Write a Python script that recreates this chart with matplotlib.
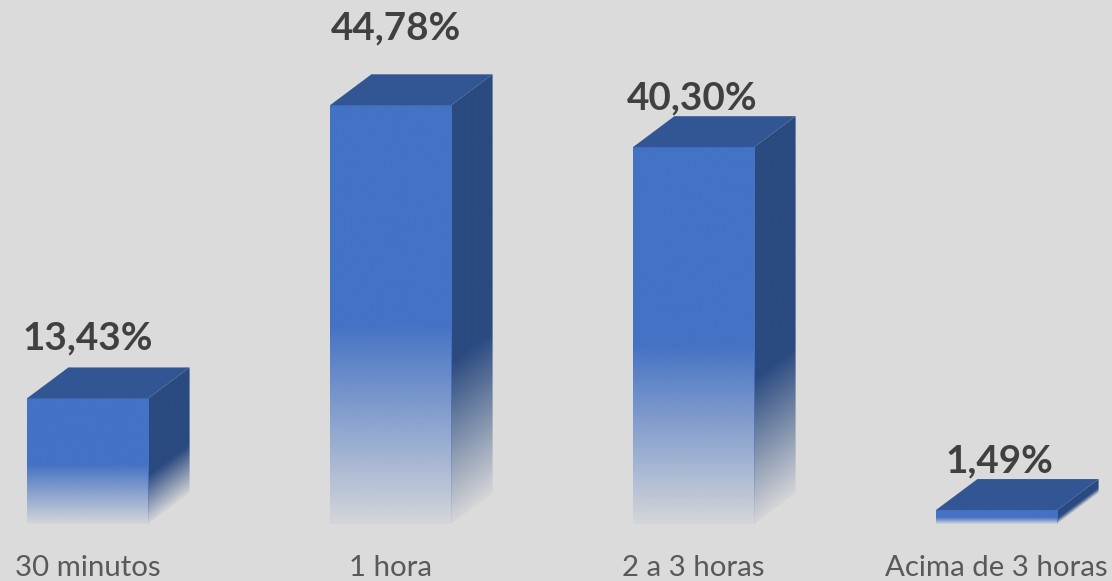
import numpy as np
import matplotlib
matplotlib.use('Agg')
import matplotlib.pyplot as plt
from matplotlib.colors import to_rgb
from matplotlib.patches import Polygon

categories = ['30 minutos', '1 hora', '2 a 3 horas', 'Acima de 3 horas']
values = [13.43, 44.78, 40.30, 1.49]
value_labels = ['13,43%', '44,78%', '40,30%', '1,49%']
# hand placed labels in the original, offset from the bar top in pixels
label_dx = [0, 5, -1.5, 2.5]
label_dy = [60, 77, 49, 49]

BG = '#DBDBDB'
FRONT = '#4472C4'
TOP = '#325694'
SIDE = '#2A4A80'

BAR_W = 0.4
DEPTH_X = 41.5 / 303
DEPTH_Y = 31 / 9.35


def rgba_image(color, alpha):
    img = np.zeros(alpha.shape + (4,))
    img[..., :3] = to_rgb(color)
    img[..., 3] = alpha
    return img


fig = plt.figure(figsize=(11.12, 5.81), dpi=100, facecolor=BG)
ax = fig.add_axes([0, 57 / 581, 1, 524 / 581], facecolor=BG)

for i, v in enumerate(values):
    x0 = i - BAR_W / 2
    x1 = i + BAR_W / 2

    # top face
    ax.add_patch(Polygon([(x0, v), (x1, v), (x1 + DEPTH_X, v + DEPTH_Y), (x0 + DEPTH_X, v + DEPTH_Y)],
                         closed=True, facecolor=TOP, edgecolor='none', zorder=3))

    # side face, the fade is sheared along with the face
    u, y = np.meshgrid(np.linspace(0, 1, 60), np.linspace(0, v + DEPTH_Y, 500))
    side_alpha = np.clip(0.04 + (y - u * DEPTH_Y) / (v * 0.4), 0, 1)
    im = ax.imshow(rgba_image(SIDE, side_alpha), origin='lower', aspect='auto', zorder=2,
                   extent=(x1, x1 + DEPTH_X, 0, v + DEPTH_Y), interpolation='bilinear')
    side = Polygon([(x1, 0), (x1 + DEPTH_X, DEPTH_Y), (x1 + DEPTH_X, v + DEPTH_Y), (x1, v)],
                   closed=True, transform=ax.transData, facecolor='none', edgecolor='none')
    ax.add_patch(side)
    im.set_clip_path(side)

    # front face
    yy = np.linspace(0, v, 400).reshape(-1, 1)
    front_alpha = np.clip(0.05 + yy / (v / 2), 0, 1)
    ax.imshow(rgba_image(FRONT, front_alpha), origin='lower', aspect='auto', zorder=2,
              extent=(x0, x1, 0, v), interpolation='bilinear')

    ax.annotate(value_labels[i], (i, v), xytext=(label_dx[i], label_dy[i]), textcoords='offset pixels',
                ha='center', va='center', fontsize=27.8, fontweight='bold', color='#404040',
                family='Lato', zorder=5, annotation_clip=False)

ax.set_xlim(-87.5 / 303, (1112 - 87.5) / 303)
ax.set_ylim(0, 524 / 9.35)
ax.set_xticks(range(len(categories)))
ax.set_xticklabels(categories, fontsize=21.2, color='#595959', family='Lato')
ax.tick_params(axis='x', length=0, pad=22)
ax.set_yticks([])
for s in ax.spines.values():
    s.set_visible(False)

fig.savefig('out.png', dpi=100, facecolor=BG)
